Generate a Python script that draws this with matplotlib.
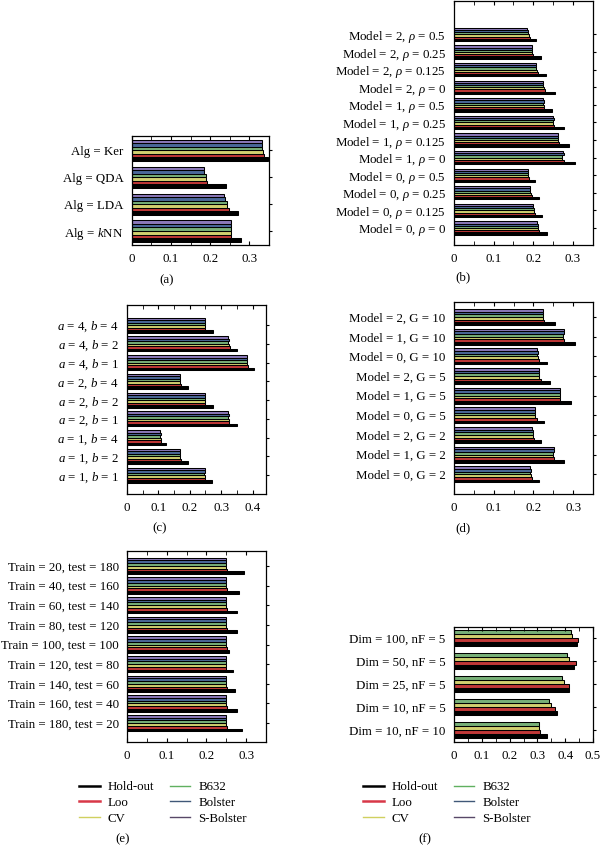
import matplotlib
matplotlib.use("Agg")
import matplotlib.pyplot as plt
from matplotlib.lines import Line2D
import numpy as np

plt.rcParams['font.family'] = ['Liberation Serif', 'DejaVu Serif']
plt.rcParams['mathtext.fontset'] = 'custom'
plt.rcParams['mathtext.rm'] = 'Liberation Serif'
plt.rcParams['mathtext.it'] = 'Liberation Serif:italic'
plt.rcParams['font.size'] = 9.3

series = ["Hold-out", "Loo", "CV", "B632", "Bolster", "S-Bolster"]
bar_colors = ["#000000", "#c03838", "#d2d070", "#78b078", "#4a6898", "#8a78b8"]
line_colors = ["#000000", "#d83848", "#d0d060", "#60b060", "#405878", "#584868"]

# (a) bottom -> top
a_cats = ["Alg = $k$NN", "Alg = LDA", "Alg = QDA", "Alg = Ker"]
a_holdout = [0.278, 0.271, 0.239, 0.347]
a_loo = [0.254, 0.247, 0.192, 0.337]
a_cv = [0.252, 0.244, 0.189, 0.334]
a_b632 = [0.252, 0.242, 0.188, 0.333]
a_bolster = [0.252, 0.238, 0.185, 0.332]
a_sbolster = [0.252, 0.236, 0.183, 0.332]

# (b)
b_cats = [r"Model = 0, $\rho$ = 0", r"Model = 0, $\rho$ = 0.125", r"Model = 0, $\rho$ = 0.25",
          r"Model = 0, $\rho$ = 0.5", r"Model = 1, $\rho$ = 0", r"Model = 1, $\rho$ = 0.125",
          r"Model = 1, $\rho$ = 0.25", r"Model = 1, $\rho$ = 0.5", r"Model = 2, $\rho$ = 0",
          r"Model = 2, $\rho$ = 0.125", r"Model = 2, $\rho$ = 0.25", r"Model = 2, $\rho$ = 0.5"]
b_holdout = [0.236, 0.222, 0.214, 0.205, 0.306, 0.290, 0.277, 0.247, 0.255, 0.232, 0.219, 0.207]
b_loo = [0.215, 0.205, 0.196, 0.189, 0.277, 0.265, 0.253, 0.228, 0.229, 0.212, 0.200, 0.191]
b_cv = [0.213, 0.203, 0.194, 0.188, 0.274, 0.263, 0.251, 0.227, 0.227, 0.209, 0.198, 0.189]
b_b632 = [0.212, 0.201, 0.193, 0.187, 0.274, 0.262, 0.250, 0.226, 0.226, 0.208, 0.198, 0.188]
b_bolster = [0.211, 0.200, 0.192, 0.186, 0.277, 0.263, 0.252, 0.227, 0.225, 0.207, 0.197, 0.187]
b_sbolster = [0.210, 0.199, 0.191, 0.186, 0.276, 0.262, 0.251, 0.226, 0.224, 0.206, 0.196, 0.185]

# (c)
c_cats = ["$a$ = 1, $b$ = 1", "$a$ = 1, $b$ = 2", "$a$ = 1, $b$ = 4",
          "$a$ = 2, $b$ = 1", "$a$ = 2, $b$ = 2", "$a$ = 2, $b$ = 4",
          "$a$ = 4, $b$ = 1", "$a$ = 4, $b$ = 2", "$a$ = 4, $b$ = 4"]
c_holdout = [0.272, 0.193, 0.123, 0.350, 0.273, 0.193, 0.405, 0.350, 0.273]
c_loo = [0.250, 0.171, 0.108, 0.326, 0.250, 0.171, 0.384, 0.327, 0.250]
c_cv = [0.247, 0.169, 0.107, 0.324, 0.247, 0.169, 0.382, 0.324, 0.247]
c_b632 = [0.246, 0.169, 0.106, 0.323, 0.247, 0.169, 0.382, 0.323, 0.247]
c_bolster = [0.248, 0.170, 0.107, 0.324, 0.248, 0.170, 0.383, 0.324, 0.248]
c_sbolster = [0.247, 0.169, 0.106, 0.323, 0.247, 0.169, 0.382, 0.323, 0.247]

# (d)
d_cats = ["Model = 0, G = 2", "Model = 1, G = 2", "Model = 2, G = 2",
          "Model = 0, G = 5", "Model = 1, G = 5", "Model = 2, G = 5",
          "Model = 0, G = 10", "Model = 1, G = 10", "Model = 2, G = 10"]
d_holdout = [0.213, 0.276, 0.219, 0.227, 0.294, 0.241, 0.235, 0.304, 0.254]
d_loo = [0.197, 0.252, 0.202, 0.208, 0.268, 0.218, 0.214, 0.277, 0.227]
d_cv = [0.193, 0.250, 0.199, 0.204, 0.266, 0.215, 0.211, 0.275, 0.225]
d_b632 = [0.192, 0.250, 0.198, 0.203, 0.266, 0.214, 0.210, 0.274, 0.224]
d_bolster = [0.193, 0.252, 0.198, 0.204, 0.267, 0.215, 0.211, 0.276, 0.225]
d_sbolster = [0.192, 0.251, 0.197, 0.203, 0.266, 0.214, 0.210, 0.276, 0.224]

# (e)
e_cats = ["Train = 180, test = 20", "Train = 160, test = 40", "Train = 140, test = 60",
          "Train = 120, test = 80", "Train = 100, test = 100", "Train = 80, test = 120",
          "Train = 60, test = 140", "Train = 40, test = 160", "Train = 20, test = 180"]
e_holdout = [0.289, 0.277, 0.272, 0.268, 0.258, 0.276, 0.277, 0.281, 0.295]
e_loo = [0.251, 0.251, 0.251, 0.250, 0.251, 0.252, 0.251, 0.251, 0.251]
e_cv = [0.249, 0.249, 0.249, 0.249, 0.249, 0.249, 0.249, 0.249, 0.249]
e_b632 = [0.248, 0.248, 0.248, 0.248, 0.248, 0.248, 0.248, 0.248, 0.248]
e_bolster = [0.249, 0.249, 0.249, 0.249, 0.248, 0.249, 0.248, 0.249, 0.248]
e_sbolster = [0.248, 0.248, 0.248, 0.248, 0.248, 0.248, 0.248, 0.248, 0.248]

# (f)
f_cats = ["Dim = 10, nF = 10", "Dim = 10, nF = 5", "Dim = 25, nF = 5",
          "Dim = 50, nF = 5", "Dim = 100, nF = 5"]
f_holdout = [0.333, 0.369, 0.413, 0.433, 0.444]
f_loo = [0.311, 0.362, 0.414, 0.437, 0.446]
f_cv = [0.307, 0.348, 0.394, 0.415, 0.426]
f_b632 = [0.307, 0.343, 0.388, 0.406, 0.419]


def draw_panel(ax, cats, vals, xmax, xticks, ylim, span):
    n = len(vals)
    h = span / n
    y = np.arange(len(cats))
    for i, v in enumerate(vals):
        ax.barh(y + (i - (n - 1) / 2) * h, v, height=h, color=bar_colors[i],
                edgecolor="black", linewidth=0.75)
    ax.set_yticks(y)
    ax.set_yticklabels(cats)
    ax.set_ylim(*ylim)
    ax.set_xlim(0, xmax)
    ax.set_xticks(xticks)
    ax.set_xticklabels(["0"] + ["%g" % t for t in xticks[1:]])
    ax.set_xticks(np.arange(0.05, xmax, 0.1), minor=True)
    ax.tick_params(axis="x", which="both", direction="in", top=True, length=3, pad=6)
    ax.tick_params(axis="y", left=False, right=True, direction="out", length=2, pad=4)
    for s in ax.spines.values():
        s.set_linewidth(0.9)


fig = plt.figure(figsize=(6, 8.47), dpi=100)

ax_a = fig.add_axes([0.2195, 0.7107, 0.229, 0.1287])
draw_panel(ax_a, a_cats, [a_holdout, a_loo, a_cv, a_b632, a_bolster, a_sbolster],
           0.35, [0, 0.1, 0.2, 0.3], (-0.52, 3.52), 0.78)

ax_b = fig.add_axes([0.7567, 0.7107, 0.2308, 0.2881])
draw_panel(ax_b, b_cats, [b_holdout, b_loo, b_cv, b_b632, b_bolster, b_sbolster],
           0.35, [0, 0.1, 0.2, 0.3], (-0.97, 12.9), 0.76)

ax_c = fig.add_axes([0.2117, 0.4168, 0.2317, 0.2231])
draw_panel(ax_c, c_cats, [c_holdout, c_loo, c_cv, c_b632, c_bolster, c_sbolster],
           0.443, [0, 0.1, 0.2, 0.3, 0.4], (-1.0, 9.07), 0.8)

ax_d = fig.add_axes([0.7567, 0.4168, 0.2317, 0.2267])
draw_panel(ax_d, d_cats, [d_holdout, d_loo, d_cv, d_b632, d_bolster, d_sbolster],
           0.35, [0, 0.1, 0.2, 0.3], (-1.0, 8.77), 0.82)

ax_e = fig.add_axes([0.2117, 0.124, 0.2317, 0.2255])
draw_panel(ax_e, e_cats, [e_holdout, e_loo, e_cv, e_b632, e_bolster, e_sbolster],
           0.35, [0, 0.1, 0.2, 0.3], (-0.96, 8.76), 0.84)

ax_f = fig.add_axes([0.7567, 0.124, 0.2317, 0.1358])
draw_panel(ax_f, f_cats, [f_holdout, f_loo, f_cv, f_b632],
           0.5, [0, 0.1, 0.2, 0.3, 0.4, 0.5], (-0.52, 4.48), 0.72)

captions = [("(a)", 167, 280), ("(b)", 463, 277), ("(c)", 160, 528),
            ("(d)", 463, 528), ("(e)", 123, 839), ("(f)", 425, 839)]
for txt, px, py in captions:
    fig.text(px / 600, 1 - py / 847, txt, ha="center", va="center", fontsize=9.3)

handles = [Line2D([], [], color=c, lw=(1.8 if i < 2 else 1.0)) for i, c in enumerate(line_colors)]
for cx in (163, 447):
    fig.legend(handles, series, loc="center", bbox_to_anchor=(cx / 600, 1 - 803 / 847),
               ncol=2, frameon=False, fontsize=9.3, handlelength=1.6, handletextpad=0.6,
               columnspacing=1.2, labelspacing=0.3)

fig.savefig("out.png", dpi=100)
